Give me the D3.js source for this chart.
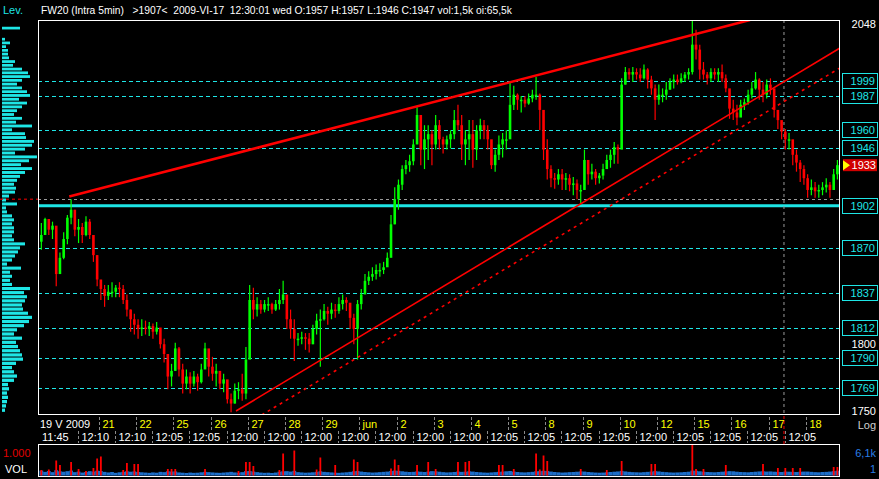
<!DOCTYPE html>
<html><head><meta charset="utf-8">
<script src="https://cdn.jsdelivr.net/npm/d3@7"></script>
<style>
html,body{margin:0;padding:0;background:#000;overflow:hidden}
svg{display:block}
text{font-family:"Liberation Sans",Arial,sans-serif}
</style>
</head><body>
<svg id="c" width="879" height="479"></svg>
<script>
// ---------------- DATA ----------------
const header = "FW20 (Intra 5min)   >1907<  2009-VI-17  12:30:01 wed O:1957 H:1957 L:1946 C:1947 vol:1,5k oi:65,5k";
const dayLabels = ["19 V 2009","20","21","22","25","26","27","28","29","jun","2","3","4","5","8","9","10","12","15","16","17","18"];
const timeLabels = ["11:45","12:10","12:10","12:05","12:05","12:00","12:00","12:00","12:00","12:00","12:00","12:00","12:05","12:05","12:05","12:05","12:00","12:05","12:05","12:05","12:05"];

const firstOpen = 1875;
const highs = [
 1889,1893,1892,1890,1884,1867,
 1882,1895,1907,1899,1892,1889,1894,1892,1879,1865,
 1845,1843,1843,1845,1843,1845,1843,1836,1825,1822,
 1818,1818,1817,1816,1815,1816,1811,1804,1793,1786,
 1801,1798,1786,1782,1780,1781,1779,1786,1801,1796,
 1791,1786,1780,1779,1772,1765,1772,1773,1779,1798,
 1843,1841,1834,1832,1832,1834,1830,1832,1840,1846,
 1829,1825,1818,1808,1809,1808,1808,1814,1822,1825,
 1829,1827,1830,1829,1834,1836,1834,1825,1822,1832,
 1840,1851,1853,1856,1858,1859,1860,1867,1895,1916,
 1922,1933,1937,1941,1953,1978,1968,1964,1964,1960,
 1972,1968,1955,1956,1960,1976,1980,1972,1960,1968,
 1968,1964,1969,1968,1964,1948,1945,1956,1958,1960,
 1998,1995,1989,1987,1987,1989,1992,2002,1989,1968,
 1953,1933,1927,1930,1930,1927,1926,1924,1922,1918,
 1945,1937,1934,1930,1927,1934,1941,1945,1951,1949,
 2001,2010,2009,2010,2009,2009,2012,2009,2003,1996,
 1996,1993,1998,2001,2004,2004,2005,2006,2009,2048,
 2040,2028,2014,2006,2009,2009,2009,2012,2004,1985,
 1984,1980,1984,1985,1992,1998,2006,2001,1998,2000,
 2001,1990,1976,1964,1961,1958,1949,1945,1937,1933,
 1926,1922,1920,1918,1920,1923,1920,1930,1937];
const lows = [
 1869,1882,1880,1877,1842,1852,
 1862,1873,1888,1879,1874,1874,1879,1877,1860,1842,
 1832,1827,1832,1834,1834,1834,1829,1820,1809,1807,
 1804,1806,1807,1806,1804,1807,1797,1787,1768,1770,
 1781,1777,1765,1768,1765,1770,1767,1772,1784,1777,
 1774,1770,1768,1766,1758,1752,1758,1761,1760,1761,
 1816,1818,1820,1822,1823,1824,1822,1824,1825,1829,
 1811,1804,1788,1799,1800,1796,1794,1800,1807,1784,
 1817,1814,1818,1819,1822,1825,1824,1811,1800,1789,
 1825,1838,1843,1846,1847,1849,1851,1858,1865,1888,
 1899,1914,1926,1928,1933,1956,1933,1930,1937,1933,
 1945,1945,1942,1945,1946,1953,1960,1937,1933,1937,
 1931,1937,1953,1953,1945,1930,1928,1937,1939,1945,
 1960,1976,1976,1974,1978,1980,1982,1984,1960,1937,
 1922,1916,1915,1918,1914,1914,1913,1910,1907,1903,
 1918,1918,1922,1918,1919,1922,1930,1931,1934,1934,
 1981,1996,2000,1998,2000,1998,2000,1993,1988,1968,
 1980,1982,1984,1992,1993,1996,1997,1998,2000,2004,
 2016,2000,2000,1996,1998,2000,1998,1998,1990,1969,
 1968,1964,1972,1976,1980,1985,1992,1984,1982,1985,
 1988,1970,1961,1953,1945,1945,1933,1928,1920,1918,
 1908,1910,1908,1908,1910,1912,1908,1916,1922];
const closes = [
 1880,1892,1884,1887,1851,1863,
 1877,1893,1899,1884,1886,1880,1890,1880,1865,1847,
 1840,1835,1838,1838,1841,1840,1832,1825,1818,1814,
 1811,1812,1811,1813,1809,1812,1800,1793,1777,1781,
 1797,1782,1772,1777,1772,1777,1773,1782,1797,1784,
 1779,1781,1772,1775,1761,1758,1767,1768,1765,1789,
 1832,1825,1829,1825,1829,1829,1825,1829,1832,1836,
 1818,1811,1804,1804,1805,1804,1800,1811,1817,1818,
 1824,1822,1825,1824,1829,1832,1830,1819,1811,1829,
 1836,1846,1849,1851,1854,1854,1856,1863,1888,1907,
 1918,1930,1933,1936,1949,1972,1945,1953,1957,1949,
 1964,1953,1949,1953,1957,1968,1964,1949,1953,1957,
 1945,1960,1964,1960,1953,1933,1941,1949,1953,1953,
 1980,1988,1984,1984,1981,1985,1988,1988,1976,1945,
 1930,1923,1922,1926,1922,1923,1918,1919,1914,1914,
 1937,1926,1928,1923,1925,1930,1937,1941,1947,1945,
 1996,2006,2004,2006,2004,2001,2008,2000,1993,1984,
 1988,1988,1992,1998,2000,1998,2001,2004,2006,2028,
 2024,2008,2004,2001,2006,2004,2006,2001,1993,1977,
 1974,1970,1980,1982,1988,1993,2000,1992,1988,1996,
 1993,1976,1968,1959,1953,1953,1941,1935,1930,1923,
 1914,1916,1913,1914,1916,1918,1914,1926,1933];

const volBlue = [
 700,520,640,480,760,600,
 540,620,700,480,560,420,500,620,560,680,
 640,520,440,500,380,460,520,600,540,580,
 500,460,420,380,440,400,520,480,600,560,
 580,440,400,360,420,380,400,460,520,480,
 440,400,380,420,460,520,440,400,480,620,
 640,560,480,420,380,400,360,420,540,600,
 620,560,660,480,440,400,420,460,520,600,
 520,480,440,400,380,420,460,520,600,640,
 560,500,460,420,440,480,520,560,640,700,
 660,600,540,500,520,580,540,500,560,620,
 600,540,480,440,460,500,560,520,540,600,
 560,500,460,420,400,440,480,520,560,600,
 640,560,500,460,440,480,520,600,620,680,
 640,560,500,460,420,440,480,500,540,580,
 560,500,460,420,400,420,460,500,540,580,
 660,580,520,480,460,440,480,520,560,620,
 580,520,480,440,420,440,460,500,540,700,
 680,600,540,500,480,460,500,540,580,620,
 600,540,500,480,460,500,540,580,600,560,
 580,540,520,500,560,540,520,500,540,560,
 560,520,480,460,500,520,560,620,680];
const volRed = [
 1100,0,1200,0,3000,2100,
 0,0,2700,0,1300,0,900,0,1500,3400,
 3800,0,0,0,0,0,1100,2500,0,2300,
 2300,0,0,0,0,0,0,0,1300,1300,
 1300,0,0,0,0,0,0,0,1300,0,
 0,0,0,0,0,0,0,900,0,2700,
 2700,1900,0,0,0,0,0,0,1100,4400,
 0,0,5000,0,0,0,0,0,1200,3600,
 0,0,0,2100,0,0,0,0,3200,2700,
 0,0,0,0,0,0,0,0,1400,3200,
 2100,0,0,0,0,2100,0,0,2700,0,
 1300,0,0,0,0,0,2700,0,2700,2900,
 0,0,0,0,0,0,0,2100,2100,0,
 0,1300,0,0,0,0,0,4400,1200,4000,
 2900,0,0,0,0,0,0,0,0,1300,
 0,0,0,0,0,0,1100,0,0,0,
 2900,0,0,0,0,0,0,0,2300,2300,
 0,0,0,0,0,0,0,0,0,6100,
 1300,0,1300,0,0,0,0,0,2100,0,
 0,0,0,0,0,0,0,0,2300,0,
 0,0,1500,0,1500,0,1500,0,1500,0,
 0,0,0,0,0,0,0,1700,1700];

const profileStart = 1753, profileStep = 3;
const profileVol = [
 3,4,5,6,5,7,6,12,15,12,10,14,21,20,18,16,14,20,12,15,
 22,27,30,26,21,20,23,25,22,28,10,8,10,8,19,5,10,13,16,18,
 23,12,10,12,12,10,12,10,5,4,15,4,7,13,14,12,15,18,23,30,
 19,27,35,13,23,30,32,24,23,10,30,14,20,12,15,20,25,17,28,25,
 20,15,20,28,26,20,11,13,7,6,6,4,8,3,0,0,18,0];

const dashedLevels = [1999,1987,1960,1946,1870,1837,1812,1790,1769];
const supportLevel = 1902;
const plainTicks = [2048,1800,1750];
const lastPrice = 1933;
const cursorPrice = 1907;
const cursorTime = 20.414;
const trendUpper = [[1.20,1909],[19.5,2048]];
const trendLower = [[5.683,1752.8],[21.92,2025.3]];
const trendDotted = [[6.374,1750],[21.92,2009.3]];

// ---------------- CHART ----------------
const svg = d3.select("#c");
const L = 38, R = 840, T = 20, B = 415;
const VT = 444, VB = 476;
const CYAN = "#1ee6e6", GREEN = "#00ff00", RED = "#ff0000", BLUE = "#1e6ec8", YEL = "#ffff00";

svg.append("rect").attr("width",879).attr("height",479).attr("fill","#000");

const x = d3.scaleLinear().domain([0.36,21.92]).range([L,R]);
const y = d3.scaleLog().domain([1750,2048]).range([B,T]);
const yv = d3.scaleLinear().domain([0,6100]).range([VB-0.5,VT+1]);
const xp = d3.scaleLinear().domain([0,35]).range([0,35]);

// candles
const candles = [];
for (let k=0;k<dayLabels.length;k++){
  const j0 = k===0?4:0, j1 = k===dayLabels.length-1?9:10;
  for (let j=j0;j<j1;j++) candles.push({t:k+(j+0.5)/10});
}
candles.forEach((c,i)=>{
  c.h=highs[i]; c.l=lows[i]; c.c=closes[i];
  c.o = i===0?firstOpen:closes[i-1];
  c.vb=volBlue[i]; c.vr=volRed[i];
});

const defs = svg.append("defs");
defs.append("clipPath").attr("id","pc").append("rect").attr("x",L).attr("y",T).attr("width",R-L).attr("height",B-T);
defs.append("clipPath").attr("id","vc").append("rect").attr("x",L+1).attr("y",VT).attr("width",R-L-1).attr("height",VB-VT);

// header
svg.append("text").attr("x",3).attr("y",14).attr("fill",CYAN).attr("font-size",11).text("Lev.");
svg.append("text").attr("x",41).attr("y",14).attr("fill","#fff").attr("font-size",11)
  .attr("textLength",471).attr("lengthAdjust","spacingAndGlyphs").style("white-space","pre").text(header);

// volume profile (left)
const prof = svg.append("g");
profileVol.forEach((v,i)=>{
  if(!v) return;
  const p = profileStart + i*profileStep;
  const y0 = y(p+profileStep/2), y1 = y(p-profileStep/2);
  prof.append("rect").attr("x",2).attr("y",y0).attr("width",xp(v)).attr("height",Math.max(1,y1-y0-1)).attr("fill",CYAN);
});
svg.append("line").attr("x1",0).attr("x2",L).attr("y1",y(cursorPrice)).attr("y2",y(cursorPrice))
  .attr("stroke",RED).attr("stroke-width",1).attr("stroke-dasharray","3,3");

// plot area
const plot = svg.append("g").attr("clip-path","url(#pc)");
dashedLevels.forEach(p=>{
  plot.append("line").attr("x1",L).attr("x2",R).attr("y1",Math.round(y(p))+0.5).attr("y2",Math.round(y(p))+0.5)
    .attr("stroke",CYAN).attr("stroke-width",1).attr("stroke-dasharray","4,3");
});
plot.append("line").attr("x1",L).attr("x2",R).attr("y1",y(supportLevel)).attr("y2",y(supportLevel))
  .attr("stroke",CYAN).attr("stroke-width",3);
plot.append("line").attr("x1",L).attr("x2",R).attr("y1",Math.round(y(cursorPrice))+0.5).attr("y2",Math.round(y(cursorPrice))+0.5)
  .attr("stroke","#9a9a9a").attr("stroke-width",1).attr("stroke-dasharray","3,3");
plot.append("line").attr("x1",x(cursorTime)).attr("x2",x(cursorTime)).attr("y1",T).attr("y2",B)
  .attr("stroke","#9a9a9a").attr("stroke-width",1).attr("stroke-dasharray","3,3");

const cg = plot.append("g");
candles.forEach(c=>{
  const col = c.c>=c.o?GREEN:RED;
  const cx = x(c.t);
  cg.append("line").attr("x1",cx).attr("x2",cx).attr("y1",y(c.h)).attr("y2",y(c.l)).attr("stroke",col).attr("stroke-width",1.2);
  const yo=y(c.o), yc=y(c.c);
  cg.append("rect").attr("x",cx-1.3).attr("width",2.6).attr("y",Math.min(yo,yc)).attr("height",Math.max(1.5,Math.abs(yo-yc))).attr("fill",col);
});

const tl = d3.line().x(d=>x(d[0])).y(d=>y(d[1]));
plot.append("path").attr("d",tl(trendUpper)).attr("stroke",RED).attr("stroke-width",2.6).attr("fill","none");
plot.append("path").attr("d",tl(trendLower)).attr("stroke",RED).attr("stroke-width",1.6).attr("fill","none");
plot.append("path").attr("d",tl(trendDotted)).attr("stroke",RED).attr("stroke-width",1.6).attr("fill","none").attr("stroke-dasharray","3,4");

// frame
svg.append("rect").attr("x",L+0.5).attr("y",T+0.5).attr("width",R-L-1).attr("height",B-T-1).attr("fill","none").attr("stroke","#fff").attr("stroke-width",1);

// right axis
const ra = svg.append("g").attr("font-size",11);
plainTicks.forEach(p=>{
  const yy = Math.max(24,Math.min(411,y(p)));
  ra.append("text").attr("x",876).attr("y",yy).attr("dy","0.36em").attr("text-anchor","end").attr("fill","#fff").text(p);
});
dashedLevels.concat([supportLevel]).forEach(p=>{
  const yy = y(p);
  ra.append("rect").attr("x",842.5).attr("y",Math.round(yy)-7.5).attr("width",35).attr("height",15).attr("fill","#000").attr("stroke",CYAN).attr("stroke-width",1);
  ra.append("text").attr("x",875).attr("y",yy).attr("dy","0.36em").attr("text-anchor","end").attr("fill",CYAN).text(p);
});
{
  const yy = y(lastPrice);
  ra.append("rect").attr("x",843).attr("y",yy-6).attr("width",34).attr("height",12).attr("fill","#d00000");
  ra.append("path").attr("d",`M843,${yy-5}L850,${yy}L843,${yy+5}Z`).attr("fill",YEL);
  ra.append("text").attr("x",876).attr("y",yy).attr("dy","0.36em").attr("text-anchor","end").attr("fill","#fff").text(lastPrice);
}
ra.append("text").attr("x",876).attr("y",425).attr("dy","0.36em").attr("text-anchor","end").attr("fill","#d0d0d0").text("Log");

// bottom time axis
const ax = svg.append("g").attr("font-size",11);
dayLabels.forEach((d,k)=>{
  if(k===0){ ax.append("text").attr("x",40).attr("y",428).attr("fill","#fff").text(d); return; }
  if(k===1) return;
  const xx = Math.round(x(k))+0.5;
  ax.append("line").attr("x1",xx).attr("x2",xx).attr("y1",417).attr("y2",430).attr("stroke","#8a8a8a").attr("stroke-dasharray","3,2");
  ax.append("text").attr("x",xx+3).attr("y",428).attr("fill",YEL).text(d);
});
timeLabels.forEach((t,k)=>{
  if(k===0){ ax.append("text").attr("x",42).attr("y",441).attr("fill","#fff").text(t); return; }
  const xx = Math.round(x(k+0.43))+0.5;
  ax.append("line").attr("x1",xx).attr("x2",xx).attr("y1",431).attr("y2",443).attr("stroke","#8a8a8a").attr("stroke-dasharray","3,2");
  ax.append("text").attr("x",xx+3).attr("y",441).attr("fill","#fff").text(t);
});
ax.append("line").attr("x1",x(cursorTime)).attr("x2",x(cursorTime)).attr("y1",416).attr("y2",444)
  .attr("stroke",RED).attr("stroke-dasharray","3,2");

// volume panel
const vg = svg.append("g").attr("clip-path","url(#vc)");
candles.forEach(c=>{
  const cx = x(c.t);
  vg.append("rect").attr("x",cx-1.9).attr("width",3.8).attr("y",yv(c.vb*1.4)).attr("height",VB-0.5-yv(c.vb*1.4)).attr("fill",BLUE);
  if(c.vr>0) vg.append("rect").attr("x",cx-0.9).attr("width",1.8).attr("y",yv(c.vr)).attr("height",VB-0.5-yv(c.vr)).attr("fill",RED);
});
svg.append("rect").attr("x",L+0.5).attr("y",VT+0.5).attr("width",R-L-1).attr("height",VB-VT).attr("fill","none").attr("stroke","#fff");
svg.append("text").attr("x",3).attr("y",453).attr("dy","0.36em").attr("font-size",11).attr("fill","#e00000").text("1.000");
svg.append("text").attr("x",5).attr("y",469).attr("dy","0.36em").attr("font-size",11).attr("fill","#fff").text("VOL");
svg.append("text").attr("x",876).attr("y",453).attr("dy","0.36em").attr("text-anchor","end").attr("font-size",11).attr("fill","#2a7ee6").text("6,1k");
svg.append("text").attr("x",876).attr("y",469).attr("dy","0.36em").attr("text-anchor","end").attr("font-size",11).attr("fill","#2a7ee6").text("1");
</script>
</body></html>
